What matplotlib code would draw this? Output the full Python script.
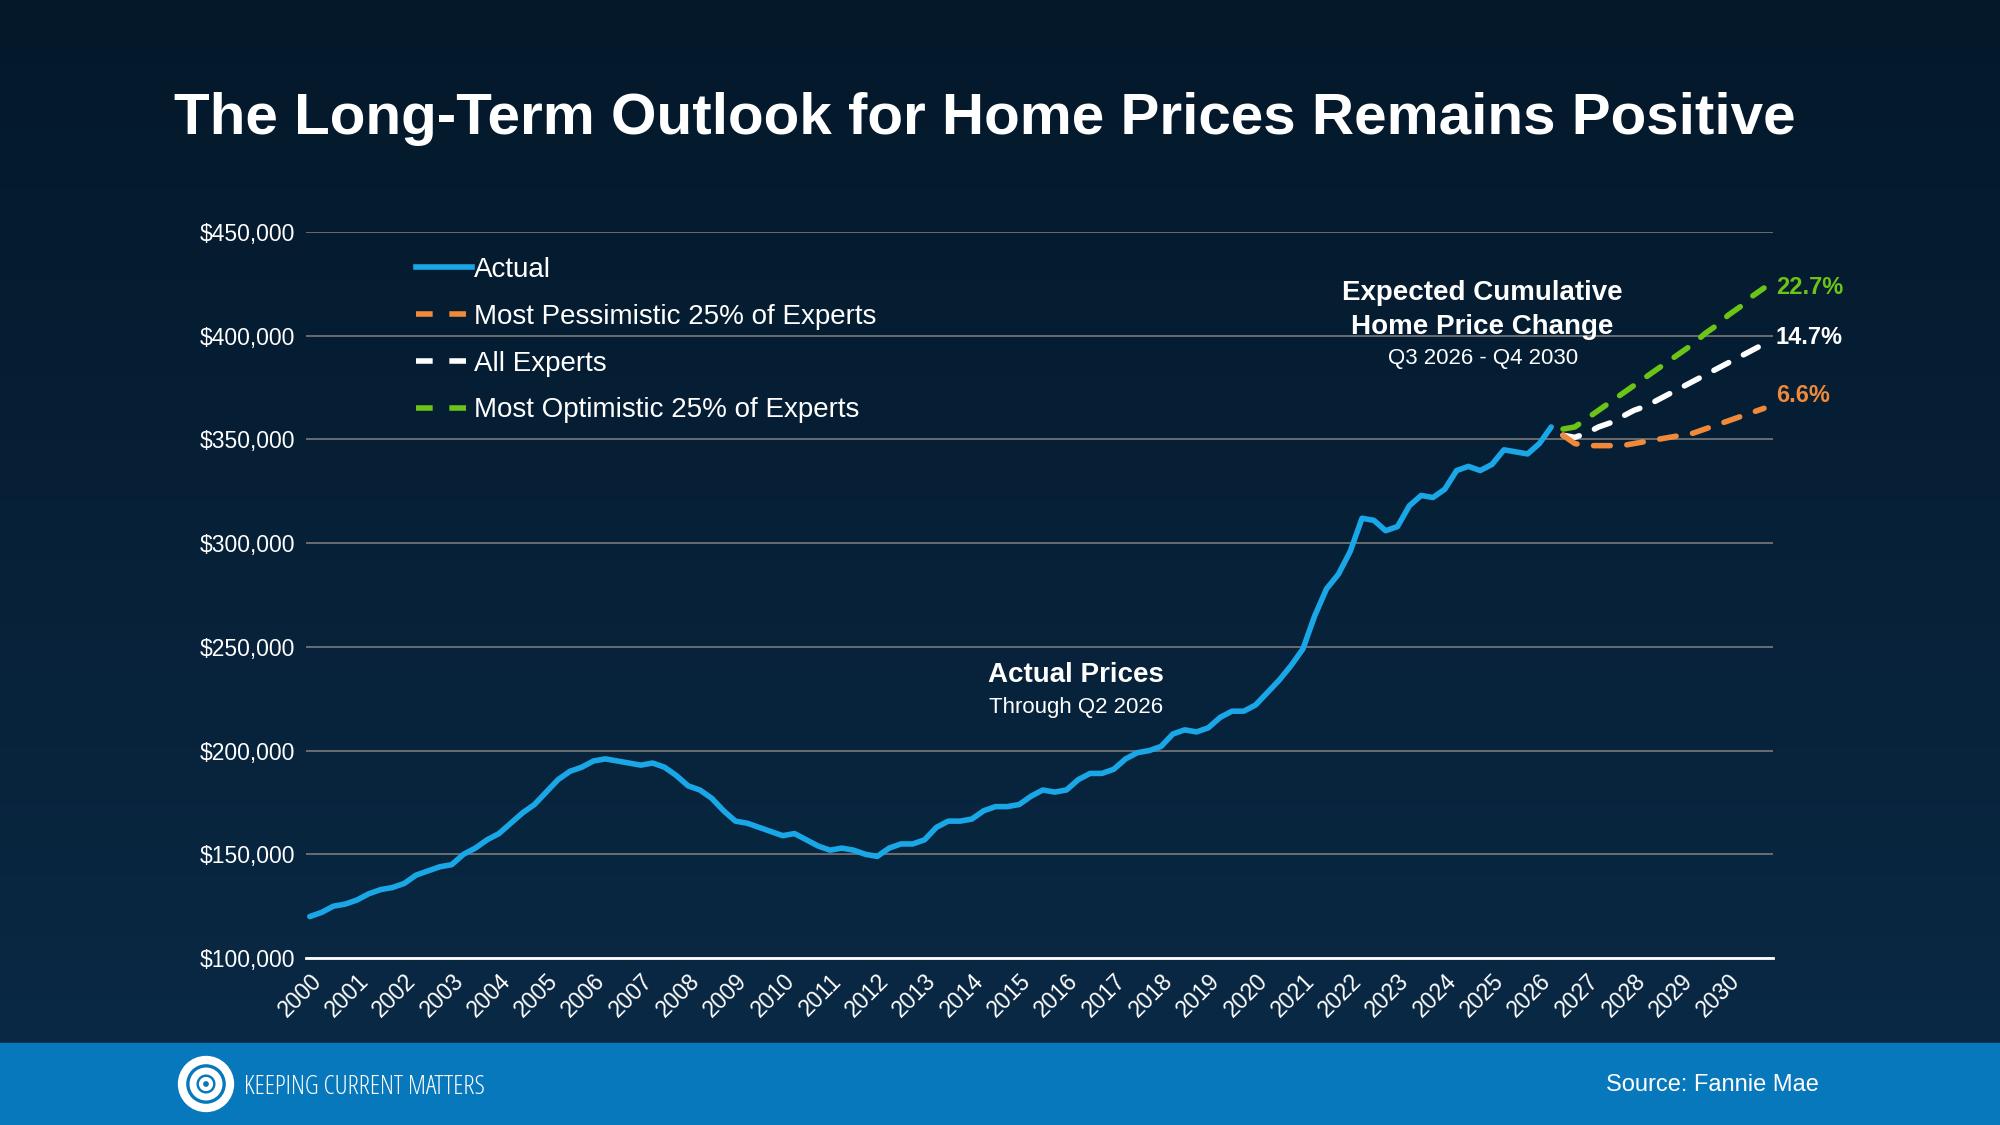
import numpy as np
import matplotlib
matplotlib.use('Agg')
import matplotlib.pyplot as plt
from matplotlib.lines import Line2D
from matplotlib.patches import Circle, Rectangle

plt.rcParams['font.family'] = ['Liberation Sans', 'DejaVu Sans']

# quarterly actual prices, Q1 2000 - Q2 2026 (thousands of $)
actual = [120, 122, 125, 126, 128, 131, 133, 134, 136, 140, 142, 144,
          145, 150, 153, 157, 160, 165, 170, 174, 180, 186, 190, 192,
          195, 196, 195, 194, 193, 194, 192, 188, 183, 181, 177, 171,
          166, 165, 163, 161, 159, 160, 157, 154, 152, 153, 152, 150,
          149, 153, 155, 155, 157, 163, 166, 166, 167, 171, 173, 173,
          174, 178, 181, 180, 181, 186, 189, 189, 191, 196, 199, 200,
          202, 208, 210, 209, 211, 216, 219, 219, 222, 228, 234, 241,
          249, 265, 278, 285, 296, 312, 311, 306, 308, 318, 323, 322,
          326, 335, 337, 335, 338, 345, 344, 343, 348, 356]
# quarterly forecasts, Q3 2026 - Q4 2030
pessimistic = [352, 348, 347, 347, 347, 347, 348, 349, 350, 351, 352, 353, 355, 357, 359, 361, 363, 365]
all_experts = [352, 351, 353, 356, 358, 361, 364, 366, 369, 372, 375, 378, 381, 384, 387, 390, 393, 396]
optimistic = [355, 356, 360, 364, 368, 372, 376, 380, 384, 388, 392, 396, 401, 405, 410, 414, 419, 423]
end_labels = ['6.6%', '14.7%', '22.7%']
years = list(range(2000, 2031))

x_act = 2000 + np.arange(len(actual)) / 4
x_fc = 2026.5 + np.arange(len(all_experts)) / 4

fig = plt.figure(figsize=(20, 11.25), dpi=100)

# background
bg = fig.add_axes([0, 0, 1, 1], zorder=-10)
grad = np.linspace(0, 1, 256).reshape(-1, 1)
bg.imshow(grad, extent=[0, 1, 0, 1], aspect='auto', origin='upper',
          cmap=matplotlib.colors.LinearSegmentedColormap.from_list('bg', ['#04182a', '#0a2a46']))
bg.add_patch(Rectangle((0, 0), 1, 82 / 1125, color='#0878bd'))
bg.set_xlim(0, 1)
bg.set_ylim(0, 1)
bg.axis('off')

ax = fig.add_axes([0.153, 0.1484, 0.7335, 0.6454])
ax.set_facecolor('none')
ax.plot(x_act, np.array(actual) * 1000, color='#1aa7e8', lw=4, solid_capstyle='round')
green, white, orange = '#6cc417', '#ffffff', '#f08a3a'
for vals, col in [(optimistic, green), (all_experts, white), (pessimistic, orange)]:
    ax.plot(x_fc, np.array(vals) * 1000, color=col, lw=4, dashes=(3, 3), dash_capstyle='round')

ax.set_xlim(1999.92, 2030.94)
ax.set_ylim(100000, 450000)
ax.set_yticks(range(100000, 450001, 50000))
ax.set_yticklabels([f'${v:,}' for v in range(100000, 450001, 50000)], color='white', fontsize=16.5)
ax.set_xticks(years)
ax.set_xticklabels([str(y) for y in years], rotation=45, ha='right', rotation_mode='anchor',
                   color='white', fontsize=16.5)
ax.tick_params(length=0, pad=8)
ax.grid(axis='y', color='#7a7a7a', lw=1.2)
ax.set_axisbelow(True)
for s in ['top', 'right', 'left']:
    ax.spines[s].set_visible(False)
ax.spines['bottom'].set_color('white')
ax.spines['bottom'].set_linewidth(2)

handles = [Line2D([], [], color='#1aa7e8', lw=4),
           Line2D([], [], color=orange, lw=4, dashes=(3, 3)),
           Line2D([], [], color=white, lw=4, dashes=(3, 3)),
           Line2D([], [], color=green, lw=4, dashes=(3, 3))]
ax.legend(handles, ['Actual', 'Most Pessimistic 25% of Experts', 'All Experts',
                    'Most Optimistic 25% of Experts'],
          loc='upper left', bbox_to_anchor=(0.058, 1.0), frameon=False, fontsize=20,
          labelcolor='white', handlelength=2.0, handletextpad=0.1, labelspacing=0.75)

ax.text(2016.2, 236500, 'Actual Prices', color='white', fontsize=20, weight='bold',
        ha='center', va='center')
ax.text(2016.2, 221000, 'Through Q2 2026', color='white', fontsize=16, ha='center', va='center')
ax.text(2024.8, 412500, 'Expected Cumulative\nHome Price Change', color='white', fontsize=20,
        weight='bold', ha='center', va='center', linespacing=1.4)
ax.text(2024.8, 389000, 'Q3 2026 - Q4 2030', color='white', fontsize=16, ha='center', va='center')
for col, lab, yv in [(orange, end_labels[0], 371000),
                     (white, end_labels[1], 399000),
                     (green, end_labels[2], 423000)]:
    ax.text(2031.0, yv, lab, color=col, fontsize=17, weight='bold',
            ha='left', va='center', clip_on=False)

fig.text(0.4925, 0.894, 'The Long-Term Outlook for Home Prices Remains Positive', color='white',
         fontsize=42, weight='bold', ha='center', va='center')
fig.text(0.856, 0.0355, 'Source: Fannie Mae', color='white', fontsize=17, ha='center', va='center')

# logo
lax = fig.add_axes([0.0, 0.0, 1, 82 / 1125], zorder=5)
lax.set_xlim(0, 2000)
lax.set_ylim(0, 82)
lax.set_aspect('equal')
lax.axis('off')
for r, w in [(24, 6), (13, 5), (5, 3)]:
    lax.add_patch(Circle((206, 41), r, fill=False, ec='white', lw=w))
lax.text(244, 38, 'KEEPING CURRENT MATTERS', color='white', fontsize=19, ha='left', va='center',
         family=['Open Sans', 'DejaVu Sans'], fontstretch='condensed')

fig.savefig('out.png', dpi=100)
